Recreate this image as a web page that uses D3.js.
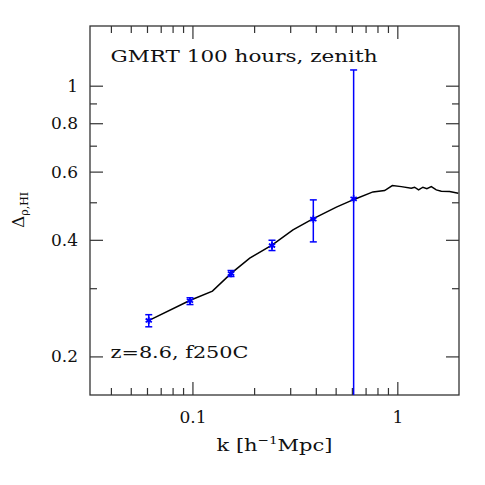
<!DOCTYPE html>
<html><head><meta charset="utf-8">
<script src="https://cdn.jsdelivr.net/npm/d3@7"></script>
<style>body{margin:0;background:#fff}svg{display:block}text{font-family:"DejaVu Serif",serif;fill:#111}</style>
</head><body>
<script>
// Model curve
const curveK = [0.0614,0.0970,0.1252,0.1549,0.1904,0.2455,0.3095,0.3848,0.5040,0.6188,0.7603,0.8670,0.9454,1.0459,1.170,1.214,1.270,1.333,1.394,1.465,1.550,1.639,1.799,1.984];
const curveD = [0.2477,0.2789,0.2949,0.3282,0.3588,0.3883,0.4245,0.4523,0.4858,0.5093,0.5318,0.5360,0.5521,0.5488,0.5436,0.5468,0.5383,0.5468,0.5423,0.5488,0.5383,0.5341,0.5329,0.5278];
// Measured points with error bars
const ptK   = [0.0612,0.0973,0.1543,0.2445,0.389,0.612];
const ptD   = [0.2477,0.2785,0.3273,0.3866,0.4523,0.5102];
const errHi = [0.2563,0.2834,0.3333,0.3990,0.5072,1.098];
const errLo = [0.2385,0.2722,0.3216,0.3753,0.3951,0.10];
// Ticks
const xMajor = [0.1,1];
const xMajorLabels = ["0.1","1"];
const xMinor = [0.04,0.05,0.06,0.07,0.08,0.09,0.2,0.3,0.4,0.5,0.6,0.7,0.8,0.9];
const yMajor = [0.2,0.4,0.6,0.8,1];
const yMajorLabels = ["0.2","0.4","0.6","0.8","1"];
const yMinor = [0.3,0.5,0.7,0.9];

const W=485,H=485, L=90, R=459, T=26, B=395;
const svg=d3.select("body").append("svg").attr("width",W).attr("height",H);
const x=d3.scaleLog().domain([Math.pow(10,-1.5),2]).range([L,R]);
const y=d3.scaleLog().domain([0.159,1.426]).range([B,T]);

svg.append("defs").append("clipPath").attr("id","clip").append("rect")
  .attr("x",L).attr("y",T).attr("width",R-L).attr("height",B-T);

const axStyle = g=>{g.select(".domain").remove();g.selectAll(".tick line").attr("stroke","#333").attr("stroke-width",1.2);};
function fmt(vals,labels){return d=>labels[vals.indexOf(d)];}
// bottom
svg.append("g").attr("transform",`translate(0,${B})`)
  .call(d3.axisBottom(x).tickValues(xMajor).tickFormat(fmt(xMajor,xMajorLabels)).tickSize(-13).tickPadding(16))
  .call(axStyle).call(g=>g.selectAll("text").attr("font-size",17).attr("fill","#111").attr("font-family","DejaVu Serif"));
svg.append("g").attr("transform",`translate(0,${B})`)
  .call(d3.axisBottom(x).tickValues(xMinor).tickFormat("").tickSize(-7)).call(axStyle);
// top
svg.append("g").attr("transform",`translate(0,${T})`)
  .call(d3.axisTop(x).tickValues(xMajor).tickFormat("").tickSize(-13)).call(axStyle);
svg.append("g").attr("transform",`translate(0,${T})`)
  .call(d3.axisTop(x).tickValues(xMinor).tickFormat("").tickSize(-7)).call(axStyle);
// left
svg.append("g").attr("transform",`translate(${L},0)`)
  .call(d3.axisLeft(y).tickValues(yMajor).tickFormat(fmt(yMajor,yMajorLabels)).tickSize(-13).tickPadding(12))
  .call(axStyle).call(g=>g.selectAll("text").attr("font-size",17).attr("fill","#111").attr("font-family","DejaVu Serif"));
svg.append("g").attr("transform",`translate(${L},0)`)
  .call(d3.axisLeft(y).tickValues(yMinor).tickFormat("").tickSize(-7)).call(axStyle);
// right
svg.append("g").attr("transform",`translate(${R},0)`)
  .call(d3.axisRight(y).tickValues(yMajor).tickFormat("").tickSize(-13)).call(axStyle);
svg.append("g").attr("transform",`translate(${R},0)`)
  .call(d3.axisRight(y).tickValues(yMinor).tickFormat("").tickSize(-7)).call(axStyle);

// frame
svg.append("rect").attr("x",L).attr("y",T).attr("width",R-L).attr("height",B-T)
  .attr("fill","none").attr("stroke","#333").attr("stroke-width",1.3);

const plot=svg.append("g").attr("clip-path","url(#clip)");
// curve
plot.append("path").datum(d3.range(curveK.length))
  .attr("d",d3.line().x(i=>x(curveK[i])).y(i=>y(curveD[i])))
  .attr("fill","none").attr("stroke","#000").attr("stroke-width",1.5);
// error bars
const eb=plot.append("g").attr("stroke","#0000ff").attr("stroke-width",1.5).attr("fill","none");
ptK.forEach((k,i)=>{
  const cx=x(k);
  eb.append("line").attr("x1",cx).attr("x2",cx).attr("y1",y(errLo[i])).attr("y2",y(errHi[i]));
  eb.append("line").attr("x1",cx-3.5).attr("x2",cx+3.5).attr("y1",y(errHi[i])).attr("y2",y(errHi[i]));
  eb.append("line").attr("x1",cx-3.5).attr("x2",cx+3.5).attr("y1",y(errLo[i])).attr("y2",y(errLo[i]));
  eb.append("path").attr("transform",`translate(${cx},${y(ptD[i])})`)
    .attr("d",d3.symbol(d3.symbolAsterisk,36)()).attr("stroke-width",1.8);
});

// texts
svg.append("text").attr("x",110.5).attr("y",62).attr("font-size",17)
  .attr("textLength",267).attr("lengthAdjust","spacingAndGlyphs").text("GMRT 100 hours, zenith");
svg.append("text").attr("x",110.5).attr("y",358).attr("font-size",17)
  .attr("textLength",138).attr("lengthAdjust","spacingAndGlyphs").text("z=8.6, f250C");
const xl=svg.append("text").attr("x",216.5).attr("y",451).attr("font-size",17)
  .attr("textLength",116).attr("lengthAdjust","spacingAndGlyphs");
xl.append("tspan").text("k [h");
xl.append("tspan").attr("font-size",11).attr("dy",-7).text("−1");
xl.append("tspan").attr("dy",7).text("Mpc]");
const yl=svg.append("text").attr("transform","translate(24,210) rotate(-90)").attr("text-anchor","middle").attr("font-size",17);
yl.append("tspan").text("Δ");
yl.append("tspan").attr("font-size",11).attr("dy",4).text("ρ,HI");
</script>
</body></html>
